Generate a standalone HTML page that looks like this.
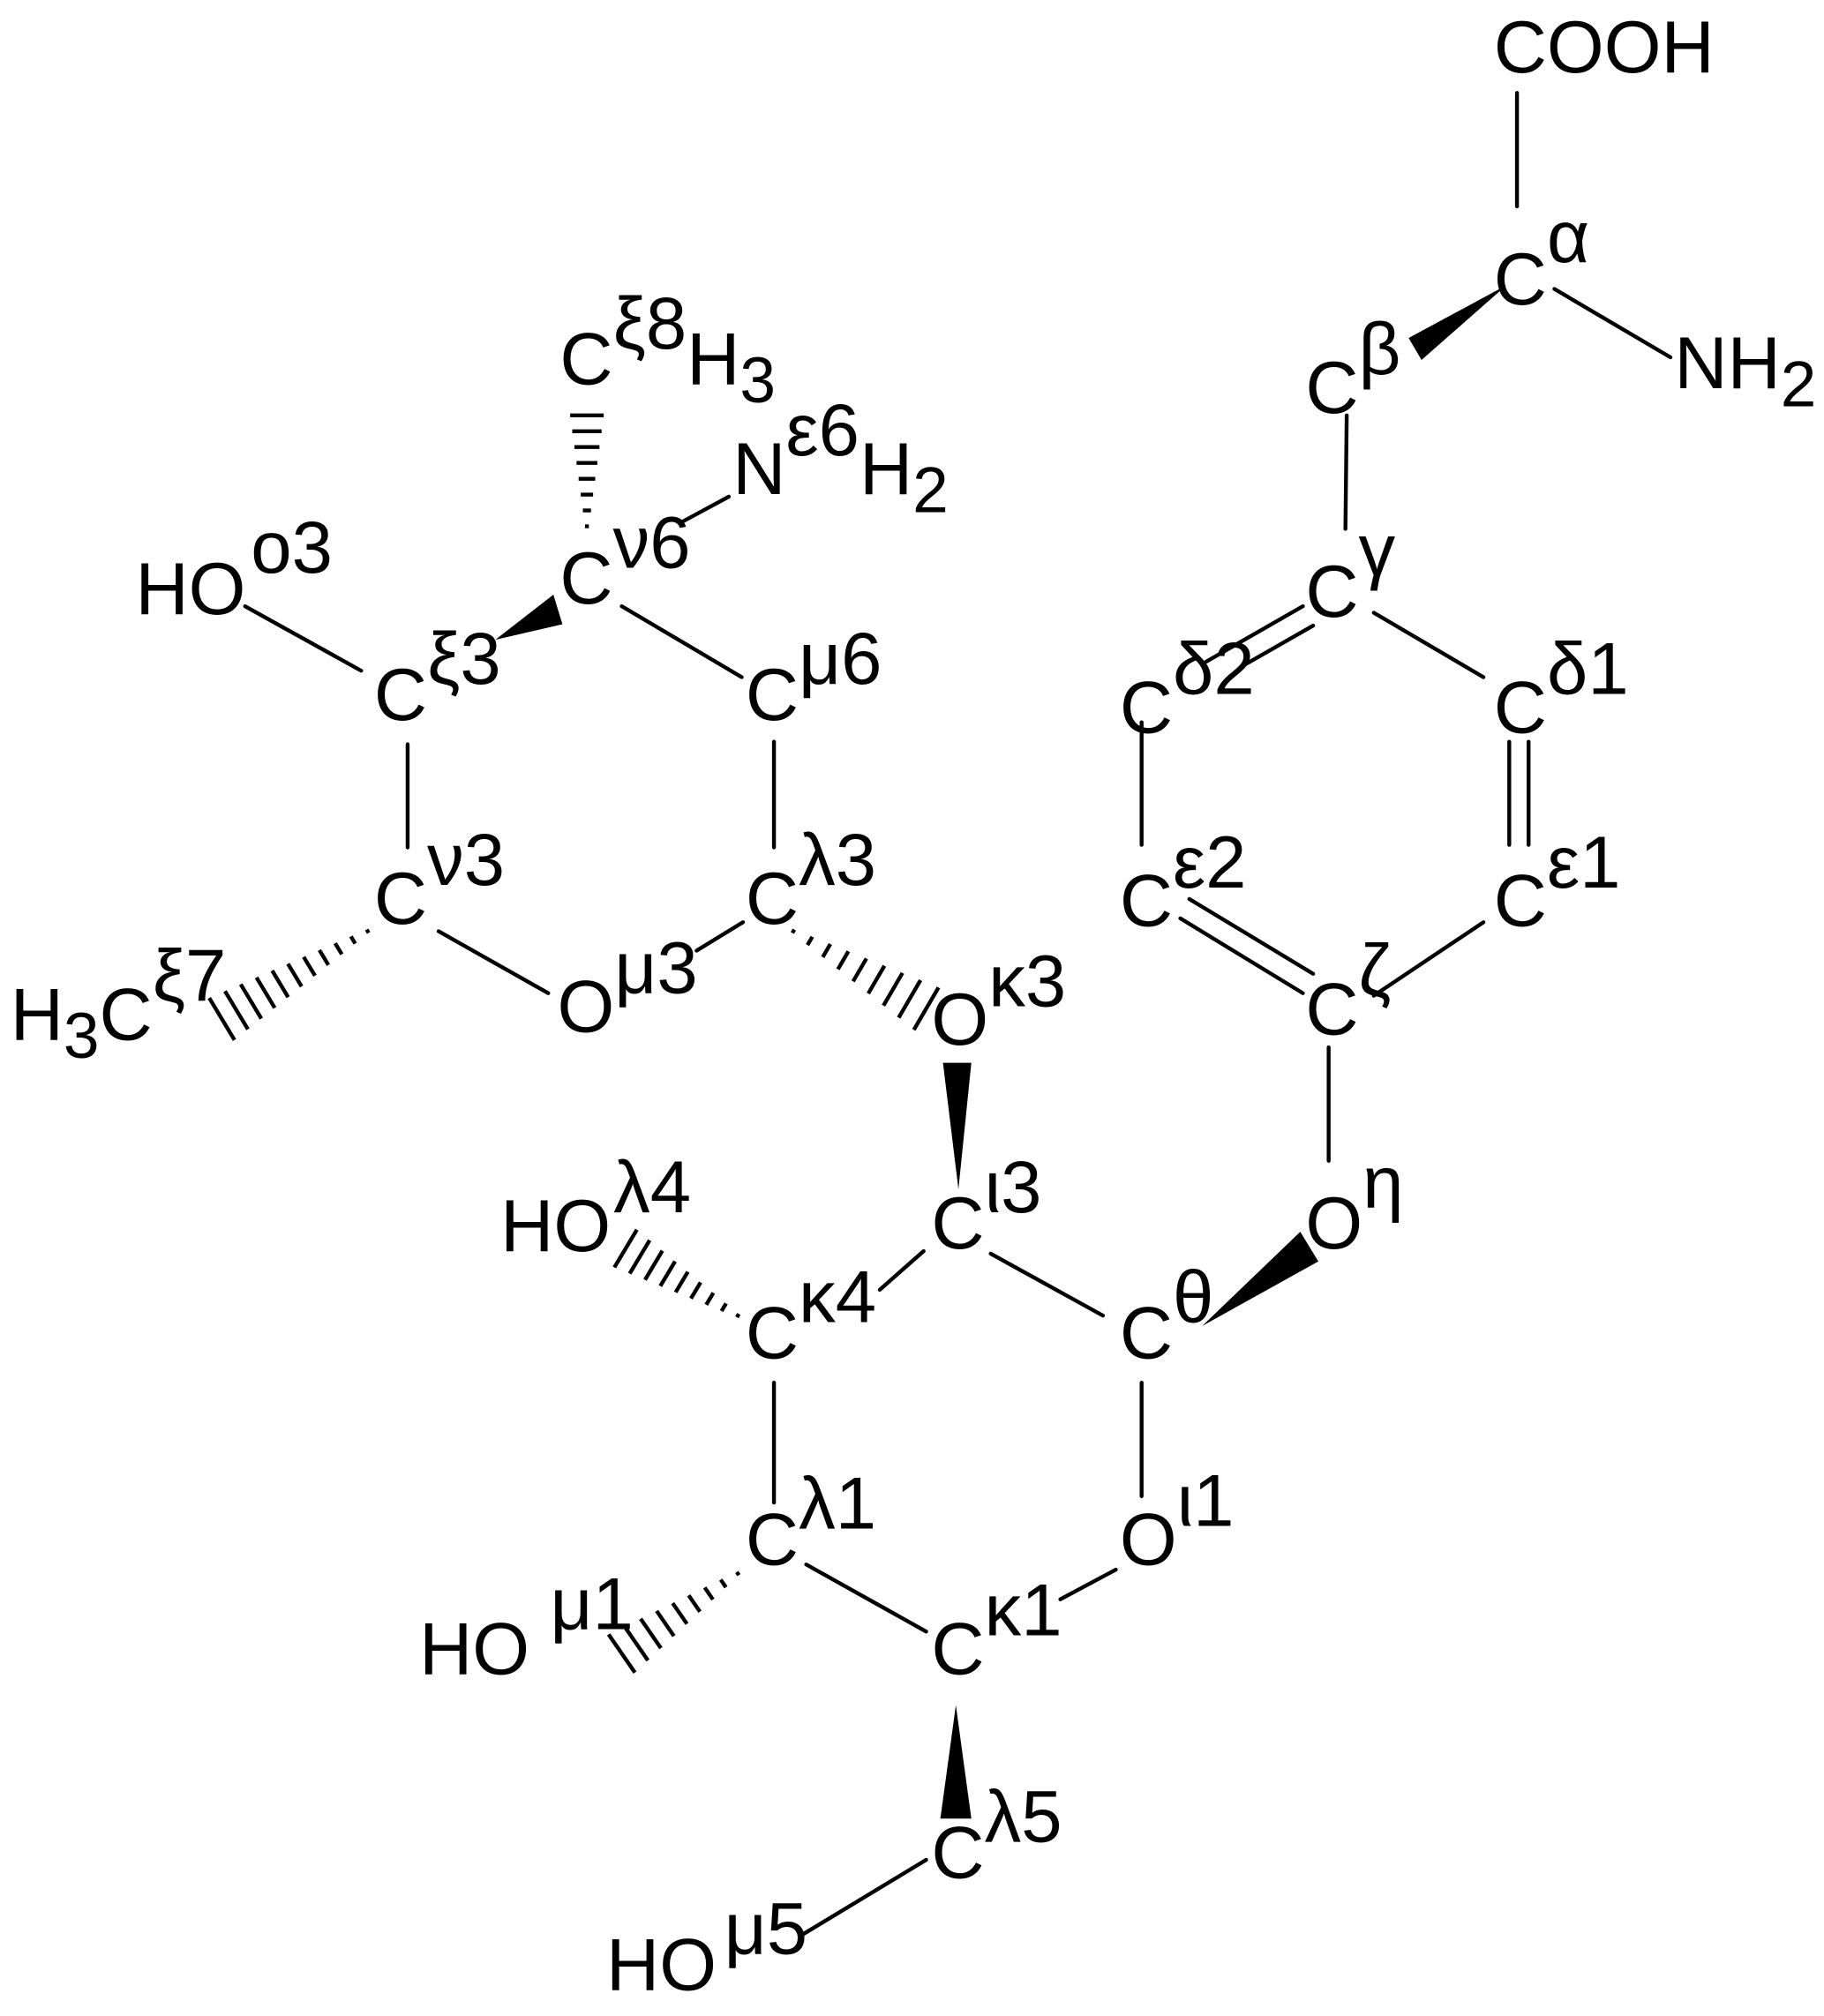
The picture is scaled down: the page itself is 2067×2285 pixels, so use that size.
<!DOCTYPE html>
<html><head><meta charset="utf-8"><style>
html,body{margin:0;padding:0;background:#fff;}
svg{display:block;}
text{font-family:"Liberation Sans",sans-serif;font-size:57px;fill:#000;}
</style></head><body>
<svg id="s" width="2067" height="2285" viewBox="0 0 1414 1563" xmlns="http://www.w3.org/2000/svg">
<g stroke="#000" stroke-width="3" fill="none" stroke-linecap="round">
<line x1="1176" y1="72" x2="1176" y2="160"/>
<line x1="1205" y1="224" x2="1295" y2="277"/>
<line x1="1044" y1="322" x2="1043" y2="410"/>
<line x1="1065" y1="475" x2="1150" y2="525"/>
<line x1="1010" y1="470" x2="935" y2="513"/>
<line x1="1018" y1="485" x2="962" y2="517"/>
<line x1="885" y1="560" x2="885" y2="655"/>
<line x1="1170" y1="575" x2="1170" y2="655"/>
<line x1="1185" y1="575" x2="1185" y2="655"/>
<line x1="915" y1="712" x2="1010" y2="770"/>
<line x1="922" y1="697" x2="1018" y2="755"/>
<line x1="1150" y1="715" x2="1065" y2="772"/>
<line x1="1030" y1="812" x2="1030" y2="900"/>
<line x1="855" y1="1020" x2="768" y2="972"/>
<line x1="885" y1="1072" x2="885" y2="1160"/>
<line x1="865" y1="1217" x2="822" y2="1240"/>
<line x1="718" y1="1265" x2="625" y2="1213"/>
<line x1="718" y1="1442" x2="622" y2="1500"/>
<line x1="600" y1="1072" x2="600" y2="1165"/>
<line x1="682" y1="1000" x2="716" y2="970"/>
<line x1="540" y1="737" x2="576" y2="715"/>
<line x1="425" y1="770" x2="340" y2="722"/>
<line x1="600" y1="575" x2="600" y2="657"/>
<line x1="575" y1="525" x2="482" y2="470"/>
<line x1="528" y1="405" x2="565" y2="385"/>
<line x1="280" y1="520" x2="190" y2="470"/>
<line x1="316" y1="577" x2="316" y2="657"/>
</g>
<g fill="#000">
<polygon points="1168,221 1092,262 1102,279"/>
<polygon points="1008,955 1022,978 932,1028"/>
<polygon points="741,1322 729,1410 753,1410"/>
<polygon points="731,824 753,824 743,922"/>
<polygon points="384,496 429,461 436,484"/>
</g>
<g id="h" stroke="#000" stroke-width="3"></g>
<g>
<text x="1158" y="56">COOH</text>
<text x="1158" y="236">C<tspan dy="-33">α</tspan></text>
<text x="1298" y="301">NH<tspan dy="14" font-size="50">2</tspan></text>
<text x="1012" y="320">C<tspan dy="-30">β</tspan></text>
<text x="1012" y="478">C<tspan dy="-32">γ</tspan></text>
<text x="868" y="568">C<tspan dy="-30">δ2</tspan></text>
<text x="1158" y="568">C<tspan dy="-30">δ1</tspan></text>
<text x="868" y="718">C<tspan dy="-30">ε2</tspan></text>
<text x="1158" y="718">C<tspan dy="-30">ε1</tspan></text>
<text x="1012" y="802">C<tspan dy="-30">ζ</tspan></text>
<text x="1012" y="968">O<tspan dy="-32">η</tspan></text>
<text x="868" y="1053">C<tspan dy="-28">θ</tspan></text>
<text x="868" y="1213">O<tspan dy="-30">ι1</tspan></text>
<text x="722" y="1298">C<tspan dy="-30">κ1</tspan></text>
<text x="722" y="1456">C<tspan dy="-28">λ5</tspan></text>
<text x="470" y="1543">HO<tspan dx="6" dy="-28">μ5</tspan></text>
<text x="578" y="1213">C<tspan dy="-28">λ1</tspan></text>
<text x="325" y="1298">HO<tspan dx="16" dy="-35">μ1</tspan></text>
<text x="578" y="1053">C<tspan dy="-28">κ4</tspan></text>
<text x="388" y="970">HO<tspan dx="2" dy="-30">λ4</tspan></text>
<text x="722" y="968">C<tspan dy="-28">ι3</tspan></text>
<text x="722" y="810">O<tspan dy="-30">κ3</tspan></text>
<text x="578" y="716">C<tspan dy="-30">λ3</tspan></text>
<text x="432" y="800">O<tspan dy="-30">μ3</tspan></text>
<text x="578" y="558">C<tspan dy="-28">μ6</tspan></text>
<text x="290" y="716">C<tspan dy="-30">ν3</tspan></text>
<text x="8" y="806">H<tspan dy="14" font-size="50">3</tspan><tspan dy="-14">C</tspan><tspan dy="-30">ξ7</tspan></text>
<text x="290" y="558">C<tspan dy="-28">ξ3</tspan></text>
<text x="105" y="476">HO<tspan dx="4" dy="-32">o3</tspan></text>
<text x="434" y="468">C<tspan dy="-28">ν6</tspan></text>
<text x="568" y="383">N<tspan dy="-30">ε6</tspan><tspan dy="30">H</tspan><tspan dy="14" font-size="50">2</tspan></text>
<text x="434" y="298">C<tspan dy="-28">ξ8</tspan><tspan dy="28">H</tspan><tspan dy="14" font-size="50">3</tspan></text>
</g>
</svg>
<script>
var g=document.getElementById('h');
function hash(x1,y1,x2,y2,w0,w1,n){
 var dx=x2-x1,dy=y2-y1,L=Math.hypot(dx,dy),ux=dx/L,uy=dy/L,px=-uy,py=ux,s='';
 for(var i=0;i<n;i++){var t=i/(n-1),cx=x1+dx*t,cy=y1+dy*t,w=(w0+(w1-w0)*t)/2;
 s+='<line x1="'+(cx-px*w)+'" y1="'+(cy-py*w)+'" x2="'+(cx+px*w)+'" y2="'+(cy+py*w)+'"/>';}
 g.innerHTML+=s;}
hash(285,722,172,790,3,38,11);
hash(615,722,718,782,3,38,9);
hash(455,408,455,322,3,26,8);
hash(572,1020,485,968,3,34,9);
hash(572,1220,482,1282,3,36,9);
</script>
</body></html>
